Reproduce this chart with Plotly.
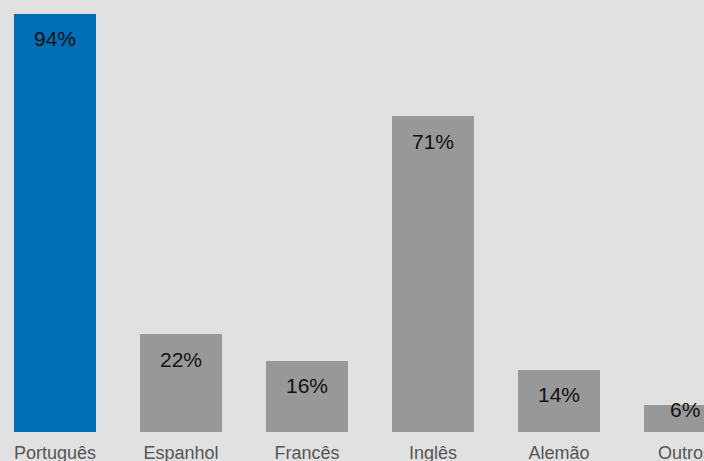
import plotly.graph_objects as go

# Languages and share of respondents (%)
idiomas = ["Português", "Espanhol", "Francês", "Inglês", "Alemão", "Outros"]
percentuais = [94, 22, 16, 71, 14, 6]
cores = ["#006eb6", "#989898", "#989898", "#989898", "#989898", "#989898"]

x_pos = list(range(len(idiomas)))

fig = go.Figure(
    go.Bar(
        x=x_pos,
        y=percentuais,
        width=0.651,
        marker=dict(color=cores, line=dict(width=0)),
        hoverinfo="skip",
    )
)

# Value labels placed near the top of each bar
for xi, v in zip(x_pos, percentuais):
    fig.add_annotation(
        x=xi,
        y=max(v, 10.6),
        yshift=-25,
        text=f"{v}%",
        showarrow=False,
        yanchor="middle",
        xanchor="center",
        font=dict(family="Liberation Sans, Arial, sans-serif", size=21, color="#111111"),
    )

fig.update_layout(
    width=704,
    height=461,
    margin=dict(l=0, r=0, t=0, b=29, pad=0),
    paper_bgcolor="#e1e1e1",
    plot_bgcolor="#e1e1e1",
    showlegend=False,
    bargap=0,
    xaxis=dict(
        range=[-0.4365, 5.151],
        tickmode="array",
        tickvals=x_pos,
        ticktext=idiomas,
        showgrid=False,
        zeroline=False,
        showline=False,
        ticks="",
        ticklabelstandoff=8,
        ticklabeloverflow="allow",
        automargin=False,
        tickfont=dict(family="Liberation Sans, Arial, sans-serif", size=18, color="#555555"),
    ),
    yaxis=dict(
        range=[0, 97.1],
        visible=False,
        showgrid=False,
        zeroline=False,
        automargin=False,
    ),
)

fig.write_html("out.html")
